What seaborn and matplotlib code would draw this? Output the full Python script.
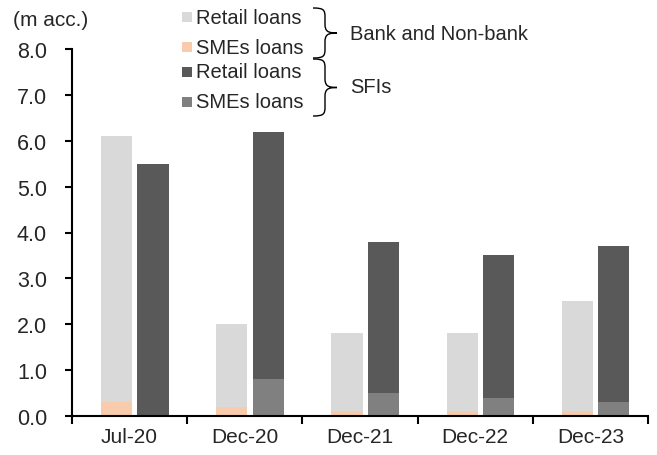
import matplotlib
matplotlib.use("Agg")
import matplotlib.pyplot as plt
from matplotlib.path import Path
from matplotlib.patches import PathPatch, Rectangle
import numpy as np
import pandas as pd
import seaborn as sns

# Data (millions of accounts)
periods = ["Jul-20", "Dec-20", "Dec-21", "Dec-22", "Dec-23"]
bank_total = [6.1, 2.0, 1.8, 1.8, 2.5]      # Bank and Non-bank: retail + SMEs
bank_smes = [0.3, 0.2, 0.1, 0.1, 0.1]
sfi_total = [5.5, 6.2, 3.8, 3.5, 3.7]       # SFIs: retail + SMEs
sfi_smes = [0.0, 0.8, 0.5, 0.4, 0.3]
groups = ["Bank and Non-bank", "SFIs"]
yticks = [0, 1, 2, 3, 4, 5, 6, 7, 8]

C_BANK_RET = "#D9D9D9"
C_BANK_SME = "#F8CBAD"
C_SFI_RET = "#595959"
C_SFI_SME = "#808080"

sns.set_theme(style="white")
plt.rcParams["font.family"] = ["Liberation Sans", "DejaVu Sans"]

tot = pd.DataFrame({
    "period": periods * 2,
    "group": [groups[0]] * 5 + [groups[1]] * 5,
    "value": bank_total + sfi_total,
})
sme = pd.DataFrame({
    "period": periods * 2,
    "group": [groups[0]] * 5 + [groups[1]] * 5,
    "value": bank_smes + sfi_smes,
})

W, H = 657, 456
fig = plt.figure(figsize=(W / 100, H / 100), dpi=100)
ax = fig.add_axes([72 / W, 1 - 417 / H, (648 - 72) / W, (417 - 50) / H])

kw = dict(x="period", y="value", hue="group", hue_order=groups, order=periods,
          width=0.63, gap=0.14, errorbar=None, legend=False, ax=ax,
          saturation=1, linewidth=0)
sns.barplot(data=tot, palette=[C_BANK_RET, C_SFI_RET], **kw)
sns.barplot(data=sme, palette=[C_BANK_SME, C_SFI_SME], **kw)

# Bar pairs sit slightly right of each category slot's centre
off = 0.045
ax.set_xlim(-0.5 - off, 4.5 - off)
ax.set_xticks(np.arange(len(periods)) - off)
ax.set_xticklabels(periods)
ax.set_ylim(0, 8)
ax.set_yticks(yticks)
ax.set_yticklabels([f"{v:.1f}" for v in yticks], fontsize=15.5)
ax.set_xlabel("")
ax.set_ylabel("")
ax.tick_params(axis="x", which="major", length=0, labelsize=15, pad=8)
ax.set_xticks(np.arange(-0.5, 5, 1) - off, minor=True)
ax.tick_params(axis="x", which="minor", length=6, width=1.5, color="black", direction="out", bottom=True)
ax.tick_params(axis="y", length=5, width=1.5, color="black", direction="out", left=True, pad=13)
for s in ["top", "right"]:
    ax.spines[s].set_visible(False)
for s in ["left", "bottom"]:
    ax.spines[s].set_color("black")
    ax.spines[s].set_linewidth(1.5)

# Unit label
fig.text(13 / W, 1 - 20 / H, "(m acc.)", fontsize=15, va="center", ha="left")

# Legend drawn in figure pixels (origin top-left)
def fx(x):
    return x / W

def fy(y):
    return 1 - y / H

entries = [
    (18, C_BANK_RET, "Retail loans"),
    (48, C_BANK_SME, "SMEs loans"),
    (73, C_SFI_RET, "Retail loans"),
    (103, C_SFI_SME, "SMEs loans"),
]
for yc, col, lab in entries:
    fig.patches.append(Rectangle((fx(182), fy(yc + 5)), 10 / W, 10 / H,
                                 transform=fig.transFigure, facecolor=col,
                                 edgecolor="none"))
    fig.text(fx(196), fy(yc), lab, fontsize=14.5, va="center", ha="left")


def brace(x0, y0, y1, w):
    ym = (y0 + y1) / 2
    xm = x0 + w / 2
    r = 9
    pts = [
        (x0, y0), (x0 + w * 0.45, y0), (xm, y0 + 2), (xm, y0 + r),
        (xm, ym - r),
        (xm, ym - 2), (x0 + w * 0.6, ym), (x0 + w, ym),
        (x0 + w * 0.6, ym), (xm, ym + 2), (xm, ym + r),
        (xm, y1 - r),
        (xm, y1 - 2), (x0 + w * 0.45, y1), (x0, y1),
    ]
    codes = [Path.MOVETO, Path.CURVE4, Path.CURVE4, Path.CURVE4,
             Path.LINETO,
             Path.CURVE4, Path.CURVE4, Path.CURVE4,
             Path.CURVE4, Path.CURVE4, Path.CURVE4,
             Path.LINETO,
             Path.CURVE4, Path.CURVE4, Path.CURVE4]
    verts = [(fx(px), fy(py)) for px, py in pts]
    fig.patches.append(PathPatch(Path(verts, codes), transform=fig.transFigure,
                                 facecolor="none", edgecolor="black", linewidth=1.0))


brace(313, 9, 59, 24)
brace(313, 60, 117, 24)
fig.text(fx(350), fy(34), "Bank and Non-bank", fontsize=14.5, va="center", ha="left")
fig.text(fx(350), fy(88), "SFIs", fontsize=14.5, va="center", ha="left")

fig.savefig("out.png", dpi=100)
